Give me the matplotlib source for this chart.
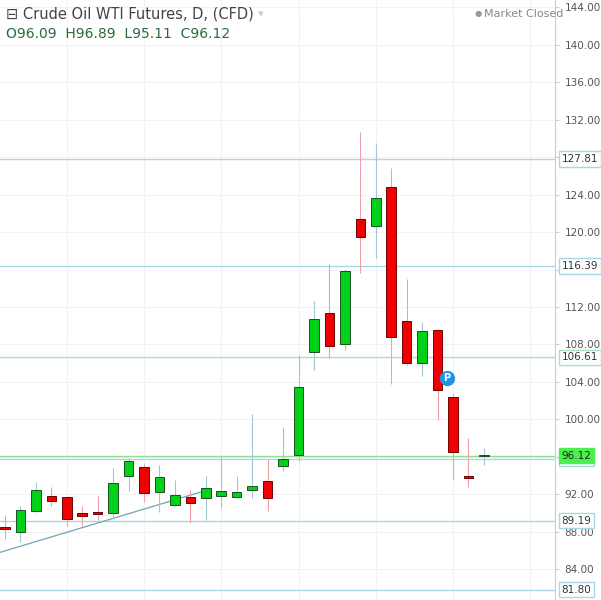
import numpy as np
import matplotlib.pyplot as plt
import matplotlib.transforms as mtransforms

# daily OHLC
opens  = [88.5, 88.0, 90.2, 91.8, 91.7, 90.0, 90.05, 90.0, 93.9, 94.9, 92.2, 90.8, 91.7, 91.6, 91.8, 91.7,
          92.5, 93.4, 95.0, 96.2, 107.2, 111.4, 108.0, 121.4, 120.7, 124.8, 110.5, 106.0, 109.5, 102.4, 93.9, 96.09]
highs  = [89.8, 90.7, 93.3, 92.8, 91.8, 90.7, 91.8, 94.8, 95.9, 95.3, 95.1, 93.5, 92.4, 94.0, 96.1, 94.0,
          100.6, 95.8, 99.2, 106.9, 112.6, 116.6, 116.1, 130.7, 129.5, 126.9, 115.0, 110.4, 109.7, 102.7, 98.0, 96.89]
lows   = [87.2, 86.9, 90.1, 90.7, 88.6, 88.6, 89.2, 89.4, 92.3, 91.2, 90.1, 90.7, 88.9, 89.2, 90.5, 91.7,
          91.6, 90.2, 94.5, 95.5, 105.3, 106.6, 107.4, 115.6, 117.2, 103.8, 105.8, 104.6, 99.9, 93.6, 92.8, 95.11]
closes = [88.3, 90.3, 92.4, 91.3, 89.4, 89.7, 89.9, 93.2, 95.5, 92.1, 93.8, 91.9, 91.1, 92.7, 92.3, 92.2,
          92.9, 91.6, 95.8, 103.5, 110.7, 107.8, 115.8, 119.5, 123.7, 108.8, 106.0, 109.4, 103.1, 96.5, 93.7, 96.12]

levels = [127.81, 116.39, 106.61, 95.81, 89.19, 81.80]
level_colors = ['#a8d8e8', '#a8d8e8', '#a8e0c0', '#a8d8e8', '#a8d8e8', '#a8d8e8']
last_price = 96.12
trend_x = [-0.3, 12.8]
trend_y = [85.8, 92.3]
yticks = list(range(84, 145, 4))

fig = plt.figure(figsize=(6.01, 6.0), dpi=100)
ax = fig.add_axes([0, 0, 555 / 601, 1])
ax.set_xlim(-0.32, 35.6)
ax.set_ylim(80.7, 144.8)

for y in yticks:
    ax.axhline(y, color='#f2f2f2', lw=0.8, zorder=0)
for x in range(4, 36, 5):
    ax.axvline(x, color='#f2f2f2', lw=0.8, zorder=0)

for y, c in zip(levels, level_colors):
    ax.axhline(y, color=c, lw=1.0, zorder=1)
ax.axhline(last_price, color='#90e090', lw=1.0, zorder=1)

ax.plot(trend_x, trend_y, color='#6aa8b0', lw=0.9, zorder=2)

for i, (o, h, l, c) in enumerate(zip(opens, highs, lows, closes)):
    up = c >= o
    col = '#00d21a' if up else '#f00000'
    wick = '#a0c8d0' if up else '#f0a0a8'
    ax.vlines(i, l, h, color=wick, lw=0.8, zorder=3)
    bot, top = min(o, c), max(o, c)
    ax.bar(i, max(top - bot, 0.15), bottom=bot, width=0.62, color=col,
           edgecolor='#1a5020' if up else '#700000', lw=0.7, zorder=4)

ax.plot(28.6, 104.4, 'o', ms=10, color='#1e96e8', zorder=5)
ax.text(28.6, 104.4, 'P', color='white', fontsize=7, fontweight='bold', ha='center', va='center', zorder=6)

ax.yaxis.tick_right()
ax.set_yticks(yticks)
ax.set_yticklabels([f'{y:.2f}' for y in yticks], fontsize=7.5, color='#555555')
ax.tick_params(axis='y', length=3, color='#cccccc', pad=4)
ax.set_xticks([])
for s in ['top', 'bottom', 'left']:
    ax.spines[s].set_visible(False)
ax.spines['right'].set_color('#cccccc')

trans = mtransforms.blended_transform_factory(ax.transAxes, ax.transData)
for y, c in zip(levels, level_colors):
    ax.text(1.012, y, f'{y:.2f}', transform=trans, fontsize=7.5, color='#333333', va='center', zorder=10,
            bbox=dict(boxstyle='square,pad=0.25', fc='white', ec=c, lw=1), clip_on=False)
ax.text(1.012, last_price, f'{last_price:.2f}', transform=trans, fontsize=7.5, color='#222222', va='center',
        zorder=10, bbox=dict(boxstyle='square,pad=0.25', fc='#4cf04c', ec='#4cf04c'), clip_on=False)

fig.text(0.01, 0.977, '⊟ Crude Oil WTI Futures, D, (CFD)', fontsize=10.5, color='#444444', va='center')
fig.text(0.43, 0.977, '▾', fontsize=8, color='#cccccc', va='center')
fig.text(0.01, 0.943, 'O96.09  H96.89  L95.11  C96.12', fontsize=10, color='#2a6a3a', va='center')
fig.text(0.79, 0.977, '●', fontsize=6, color='#999999', va='center')
fig.text(0.805, 0.977, 'Market Closed', fontsize=8, color='#888888', va='center')

fig.savefig('out.png', dpi=100)
